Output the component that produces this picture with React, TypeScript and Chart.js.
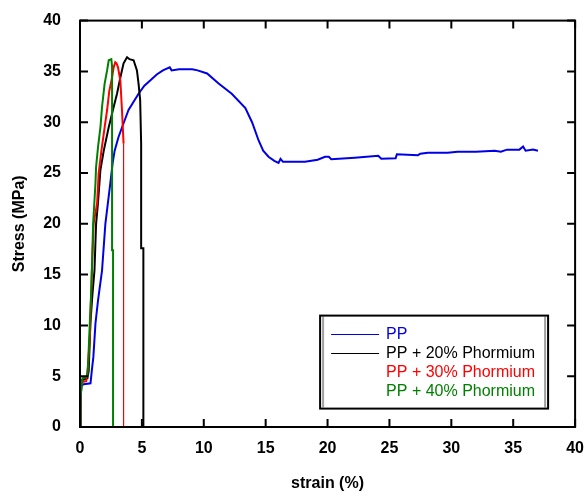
import React, { useEffect, useRef } from "react";
import { Chart, registerables } from "chart.js";
Chart.register(...registerables);

// ---------- data ----------
const ppStrain = [0, 0.05, 0.1, 0.3, 0.85, 0.95, 1.08, 1.25, 1.46, 1.57, 1.78, 2.05, 2.3, 2.45, 2.64, 2.8, 3.1, 3.4, 3.92, 4.73, 5.2, 5.67, 6.2, 6.7, 7.25, 7.4, 8.0, 9.07, 9.5, 10.27, 11.2, 12.26, 13.36, 13.9, 14.43, 14.8, 15.23, 15.7, 16.04, 16.2, 16.4, 18.18, 19.2, 19.8, 20.1, 20.3, 22.2, 24.1, 24.34, 25.5, 25.6, 27.3, 27.5, 28.1, 29.7, 30.5, 32, 33.5, 34, 34.5, 35.5, 35.8, 36, 36.6, 37];
const ppStress = [0, 2, 4.1, 4.2, 4.3, 5.5, 6.9, 10.2, 12.5, 13.5, 15.4, 20, 22.5, 24, 26, 27.2, 28.5, 29.5, 31.2, 32.8, 33.6, 34.1, 34.7, 35.1, 35.4, 35.1, 35.2, 35.2, 35.1, 34.8, 33.8, 32.8, 31.4, 30, 28.2, 27.2, 26.6, 26.2, 26.0, 26.4, 26.1, 26.1, 26.3, 26.6, 26.6, 26.35, 26.5, 26.7, 26.4, 26.45, 26.85, 26.75, 26.9, 27.0, 27.0, 27.1, 27.1, 27.2, 27.1, 27.3, 27.3, 27.6, 27.2, 27.3, 27.2];

const pp20Strain = [0, 0.05, 0.15, 0.6, 0.7, 0.84, 1.0, 1.17, 1.3, 1.45, 1.57, 1.65, 1.92, 2.32, 2.72, 2.99, 3.26, 3.52, 3.8, 4.0, 4.33, 4.6, 4.73, 4.86, 4.94, 4.94, 5.12, 5.12];
const pp20Stress = [0, 3, 4.6, 4.8, 5.5, 10.2, 13, 15.4, 20, 22, 24, 25.3, 27.2, 29.5, 31.5, 32.8, 34.4, 35.8, 36.4, 36.2, 36.1, 35.1, 33.8, 32.2, 27.9, 17.6, 17.6, 0];

const pp30Strain = [0, 0.05, 0.1, 0.5, 0.65, 0.8, 0.95, 1.1, 1.38, 1.51, 1.73, 1.99, 2.19, 2.37, 2.59, 2.72, 2.85, 2.95, 3.07, 3.26, 3.39, 3.52, 3.52];
const pp30Stress = [0, 3, 4.4, 4.5, 6, 9, 15, 20, 22, 25, 27.2, 29.5, 31.2, 33.1, 34.4, 35.4, 35.9, 35.8, 35.4, 34.1, 31.2, 27.9, 0];

const pp40Strain = [0, 0.05, 0.2, 0.6, 0.7, 0.8, 0.92, 1.06, 1.25, 1.3, 1.46, 1.65, 1.78, 1.99, 2.19, 2.32, 2.53, 2.59, 2.59, 2.67, 2.67];
const pp40Stress = [0, 3, 4.8, 5.0, 7.5, 10.5, 13.8, 20, 24, 25.6, 27.6, 29.5, 31.5, 33.8, 35.1, 36.1, 36.2, 35.5, 17.4, 17.4, 0];

const seriesLabels = ["PP", "PP + 20% Phormium", "PP + 30% Phormium", "PP + 40% Phormium"];
const seriesColors = ["#0000e6", "#000000", "#ff0000", "#008000"];
const tickValues = [0, 5, 10, 15, 20, 25, 30, 35, 40];
const xTitle = "strain (%)";
const yTitle = "Stress (MPa)";

const FONT = "'Liberation Sans', Arial, Helvetica, sans-serif";

const toPoints = (xs: number[], ys: number[]) => xs.map((x, i) => ({ x, y: ys[i] }));

const framePlugin = {
  id: "frame",
  afterDatasetsDraw(chart: any) {
    const { ctx, chartArea: a, scales } = chart;
    const x = scales.x;
    const y = scales.y;
    ctx.save();
    ctx.strokeStyle = "#000";
    ctx.lineWidth = 2;
    ctx.strokeRect(a.left, a.top, a.right - a.left, a.bottom - a.top);
    const L = 8;
    ctx.beginPath();
    for (const v of tickValues) {
      const px = x.getPixelForValue(v);
      ctx.moveTo(px, a.bottom);
      ctx.lineTo(px, a.bottom - L);
      ctx.moveTo(px, a.top);
      ctx.lineTo(px, a.top + L);
      const py = y.getPixelForValue(v);
      ctx.moveTo(a.left, py);
      ctx.lineTo(a.left + L, py);
      ctx.moveTo(a.right, py);
      ctx.lineTo(a.right - L, py);
    }
    ctx.stroke();

    // legend box
    const bl = a.right - 255;
    const bt = a.top + 295;
    const bw = 228;
    const bh = 93;
    ctx.fillStyle = "#fff";
    ctx.fillRect(bl, bt, bw, bh);
    ctx.strokeStyle = "#a0a0a0";
    ctx.lineWidth = 2;
    ctx.beginPath();
    ctx.moveTo(bl + 3, bt + 1);
    ctx.lineTo(bl + 3, bt + bh - 1);
    ctx.moveTo(bl + bw - 3, bt + 1);
    ctx.lineTo(bl + bw - 3, bt + bh - 1);
    ctx.stroke();
    ctx.strokeStyle = "#000";
    ctx.lineWidth = 2;
    ctx.strokeRect(bl, bt, bw, bh);

    ctx.font = `16px ${FONT}`;
    ctx.textBaseline = "middle";
    ctx.textAlign = "left";
    seriesLabels.forEach((label, i) => {
      const ry = bt + 18.5 + i * 19.3;
      if (i < 2) {
        ctx.strokeStyle = seriesColors[i];
        ctx.lineWidth = 1;
        ctx.beginPath();
        ctx.moveTo(bl + 11, Math.round(ry) + 0.5);
        ctx.lineTo(bl + 59, Math.round(ry) + 0.5);
        ctx.stroke();
      }
      ctx.fillStyle = seriesColors[i];
      ctx.fillText(label, bl + 66, ry);
    });
    ctx.restore();
  },
};

export default function App() {
  const ref = useRef<HTMLCanvasElement | null>(null);
  useEffect(() => {
    if (!ref.current) return;
    const all = [
      [ppStrain, ppStress],
      [pp20Strain, pp20Stress],
      [pp30Strain, pp30Stress],
      [pp40Strain, pp40Stress],
    ];
    const chart = new Chart(ref.current, {
      type: "line",
      data: {
        datasets: all.map(([xs, ys], i) => ({
          label: seriesLabels[i],
          data: toPoints(xs as number[], ys as number[]),
          borderColor: seriesColors[i],
          backgroundColor: seriesColors[i],
          borderWidth: 2,
          pointRadius: 0,
          tension: 0,
          fill: false,
          order: 3 - i,
          segment:
            i === 2
              ? { borderWidth: (c: any) => (c.p0DataIndex === pp30Strain.length - 2 ? 1 : 2) }
              : undefined,
        })),
      },
      options: {
        responsive: false,
        animation: false,
        layout: { padding: { left: 0, right: 10, top: 20, bottom: 0 } },
        plugins: { legend: { display: false }, tooltip: { enabled: false } },
        scales: {
          x: {
            type: "linear",
            min: 0,
            max: 40,
            ticks: {
              stepSize: 5,
              color: "#000",
              font: { family: FONT, size: 16, weight: "bold" },
              padding: 4,
              maxRotation: 0,
              autoSkip: false,
            },
            grid: { display: false },
            border: { display: false },
            title: {
              display: true,
              text: xTitle,
              color: "#000",
              font: { family: FONT, size: 16, weight: "bold", lineHeight: 1.2 },
              padding: { top: 0, bottom: 3 },
            },
            afterFit: (s: any) => {
              s.height = 69;
            },
          },
          y: {
            type: "linear",
            min: 0,
            max: 40,
            ticks: {
              stepSize: 5,
              color: "#000",
              font: { family: FONT, size: 16, weight: "bold" },
              padding: 11,
            },
            grid: { display: false },
            border: { display: false },
            title: {
              display: true,
              text: yTitle,
              color: "#000",
              font: { family: FONT, size: 16, weight: "bold", lineHeight: 1.2 },
              padding: { top: 10, bottom: 0 },
            },
            afterFit: (s: any) => {
              s.width = 80;
            },
          },
        },
      },
      plugins: [framePlugin],
    } as any);
    return () => chart.destroy();
  }, []);
  return (
    <div style={{ position: "absolute", left: 0, top: 0, width: 588, height: 496, background: "#fff" }}>
      <canvas ref={ref} width={588} height={496} style={{ display: "block" }} />
    </div>
  );
}
